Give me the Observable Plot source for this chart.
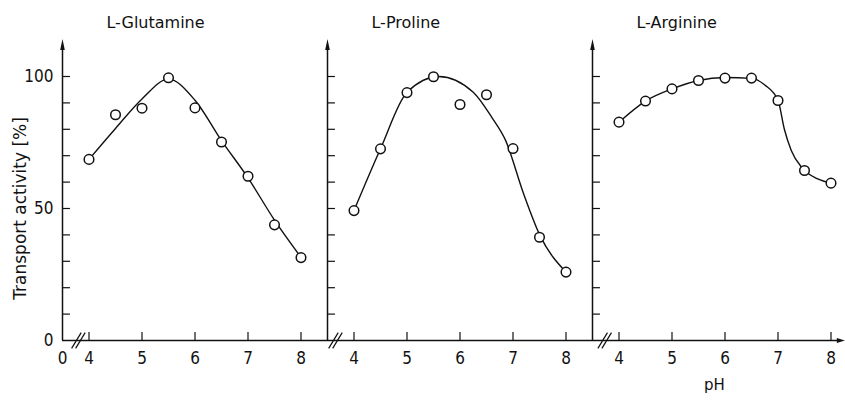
<!DOCTYPE html>
<html>
<head>
<meta charset="utf-8">
<script src="https://cdn.jsdelivr.net/npm/d3@7"></script>
<script src="https://cdn.jsdelivr.net/npm/@observablehq/plot@0.6"></script>
<style>
  html, body { margin: 0; padding: 0; background: #fff; overflow: hidden; }
</style>
</head>
<body>
<div id="chart"></div>
<script>
// ---- data ----
const panels = ["L-Glutamine", "L-Proline", "L-Arginine"];
const pH = [4, 4.5, 5, 5.5, 6, 6.5, 7, 7.5, 8];
const glutamine = [68.6, 85.5, 88, 99.5, 88.1, 75.2, 62.2, 43.8, 31.4];
const proline   = [49.2, 72.6, 93.9, 99.9, 89.4, 93.1, 72.7, 39.1, 25.9];
const arginine  = [82.7, 90.7, 95.3, 98.5, 99.4, 99.4, 90.9, 64.4, 59.6];

// fitted curves as drawn in the reference
const glutamineCurvePH = [4, 4.5, 5, 5.5, 6, 6.5, 7, 7.5, 8];
const glutamineCurve   = [68.6, 80.3, 91.5, 99, 91, 75.7, 61.6, 45.6, 31.5];
const prolineCurvePH   = [4, 4.5, 5, 5.6, 6.25, 6.6, 6.86, 7.2, 7.5, 8];
const prolineCurve     = [49.2, 72.6, 94, 100, 94, 84.5, 75.8, 55.6, 40.2, 25.9];
const arginineCurvePH  = [4, 4.5, 5, 5.5, 6, 6.5, 6.75, 7, 7.12, 7.25, 7.45, 7.75, 8];
const arginineCurve    = [82.7, 90.7, 95.3, 98.5, 99.6, 99.3, 96.8, 91, 80, 72, 65.5, 61.2, 59.6];

const pHTicks = [4, 5, 6, 7, 8];
const yTicks = [10, 20, 30, 40, 50, 60, 70, 80, 90, 100];
const yLabels = [0, 50, 100];
const breakPH = [3.8, 3.65, 3.73];   // axis-break marks, per panel
const titlePH = 4.33;                 // title start, in panel pH units
const xLabel = "pH";
const xLabelPH = 5.8;                 // in third panel
const yLabel = "Transport activity [%]";

// ---- build rows ----
const span = 5;           // each panel spans pH 3.5 .. 8.5
const axisStart = 3.5;
const off = k => span * k;
const series = [glutamine, proline, arginine];
const curves = [[glutamineCurvePH, glutamineCurve], [prolineCurvePH, prolineCurve], [arginineCurvePH, arginineCurve]];

const pointRows = series.flatMap((vals, k) => pH.map((p, i) => ({x: p + off(k), y: vals[i], panel: k})));
const curveRows = curves.flatMap(([xs, ys], k) => xs.map((p, i) => ({x: p + off(k), y: ys[i], panel: k})));
const axes = panels.map((_, k) => axisStart + off(k));
const yTickRows = axes.flatMap(ax => yTicks.map(v => ({ax, v})));
const xTickRows = panels.flatMap((_, k) => pHTicks.map(p => ({x: p + off(k), label: String(p)})));
const breakRows = breakPH.map((b, k) => ({x: b + off(k)}));
const titleRows = panels.map((t, k) => ({x: titlePH + off(k), text: t}));
const xEnd = 8.24 + off(2);

const ink = "#111";
const digitFont = "'Liberation Sans Narrow', 'DejaVu Sans Condensed', sans-serif";
const textFont = "'DejaVu Sans', sans-serif";

const chart = Plot.plot({
  width: 845,
  height: 406,
  marginLeft: 62, marginRight: 0, marginTop: 39, marginBottom: 66,
  x: {domain: [3.5, 18.5], range: [62, 857], axis: null},
  y: {domain: [0, 100], range: [340, 76], axis: null},
  style: {background: "#fff", color: ink, fontFamily: textFont},
  marks: [
    // x axis line
    Plot.ruleY([0], {x1: axisStart, x2: xEnd - 0.1, stroke: ink, strokeWidth: 1.4}),
    Plot.vector([xEnd - 0.13], {x: d => d, y: 0, length: 8, rotate: 90, shape: "spike", r: 2.5, anchor: "start", fill: ink, stroke: "none"}),
    // y axis lines with arrowheads
    Plot.ruleX(axes, {x: d => d, y1: 0, y2: 110.5, stroke: ink, strokeWidth: 1.5}),
    Plot.vector(axes, {x: d => d, y: 110, length: 11, rotate: 0, shape: "spike", r: 2.3, anchor: "start", fill: ink, stroke: "none"}),
    // y ticks (inward)
    Plot.ruleY(yTickRows, {y: "v", x1: "ax", x2: d => d.ax + 0.15, stroke: ink, strokeWidth: 1.2}),
    // x ticks (upward)
    Plot.ruleX(xTickRows, {x: "x", y1: 0, y2: 3, stroke: ink, strokeWidth: 1.2}),
    // axis-break marks
    Plot.link(breakRows, {x1: d => d.x - 0.09, x2: d => d.x + 0.09, y1: -3, y2: 3, dx: -2, stroke: ink, strokeWidth: 1.2}),
    Plot.link(breakRows, {x1: d => d.x - 0.09, x2: d => d.x + 0.09, y1: -3, y2: 3, dx: 2, stroke: ink, strokeWidth: 1.2}),
    // fitted curves
    Plot.line(curveRows, {x: "x", y: "y", z: "panel", curve: "monotone-x", stroke: ink, strokeWidth: 1.4}),
    // data points
    Plot.dot(pointRows, {x: "x", y: "y", r: 4.8, fill: "#fff", stroke: ink, strokeWidth: 1.5}),
    // y tick labels
    Plot.text(yLabels, {x: axisStart, y: d => d, text: d => String(d), dx: -9, textAnchor: "end", fontSize: 17, fontFamily: digitFont, fill: ink}),
    // x tick labels
    Plot.text(xTickRows, {x: "x", y: 0, text: "label", dy: 18, fontSize: 17, fontFamily: digitFont, fill: ink}),
    Plot.text(["0"], {x: axisStart, y: 0, text: d => d, dy: 18, fontSize: 17, fontFamily: digitFont, fill: ink}),
    // panel titles
    Plot.text(titleRows, {x: "x", y: 120.5, text: "text", textAnchor: "start", fontSize: 16, fill: ink}),
    // axis titles
    Plot.text([yLabel], {x: axisStart, y: 50, text: d => d, dx: -42, rotate: -90, fontSize: 17, fill: ink}),
    Plot.text([xLabel], {x: xLabelPH + off(2), y: 0, text: d => d, dy: 45, fontSize: 15, fill: ink})
  ]
});
document.getElementById("chart").appendChild(chart);
</script>
</body>
</html>
